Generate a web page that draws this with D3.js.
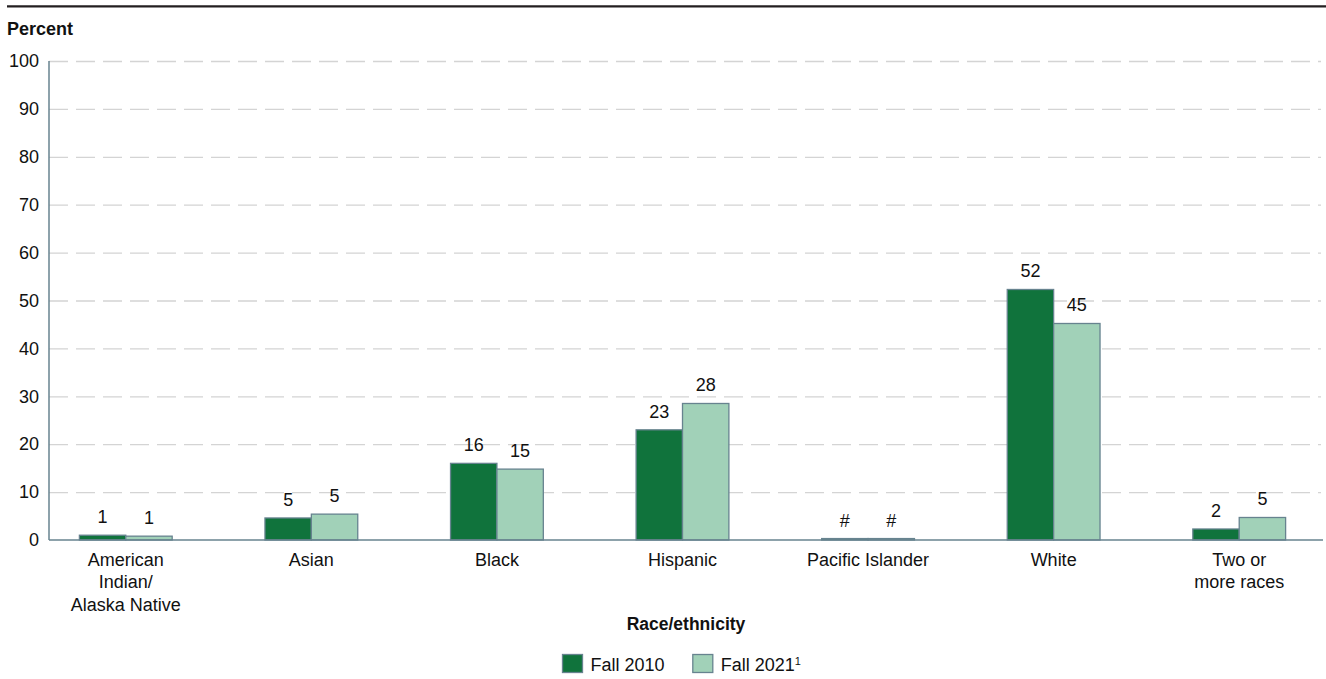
<!DOCTYPE html>
<html>
<head>
<meta charset="utf-8">
<script src="https://cdn.jsdelivr.net/npm/d3@7"></script>
<style>
  html, body { margin: 0; padding: 0; background: #fff; }
  svg { display: block; font-family: "Liberation Sans", Arial, sans-serif; }
</style>
</head>
<body>
<svg id="chart" width="1326" height="679"></svg>
<script>
const categories = ["American\nIndian/\nAlaska Native", "Asian", "Black", "Hispanic", "Pacific Islander", "White", "Two or\nmore races"];
const seriesNames = ["Fall 2010", "Fall 2021"];
const fall2010 = [1.0, 4.6, 16.0, 23.0, 0.3, 52.3, 2.3];
const fall2021 = [0.8, 5.4, 14.8, 28.5, 0.3, 45.2, 4.7];
const labels2010 = ["1", "5", "16", "23", "#", "52", "2"];
const labels2021 = ["1", "5", "15", "28", "#", "45", "5"];
const yTicks = [0, 10, 20, 30, 40, 50, 60, 70, 80, 90, 100];

const colors = ["#10733c", "#a1d1b8"];
const strokeCol = "#67838f";

const svg = d3.select("#chart");
const W = 1326;
const plotLeft = 49, plotRight = 1323, yTop = 61, yBottom = 540;

const y = d3.scaleLinear().domain([0, 100]).range([yBottom, yTop]);
const x0 = d3.scaleBand().domain(categories).range([33, 1332]).padding(0);
const x1 = d3.scaleBand().domain(seriesNames).range([0, x0.bandwidth()]).paddingInner(0).paddingOuter(1);

// top rule
svg.append("line").attr("x1", 7).attr("x2", W).attr("y1", 6.3).attr("y2", 6.3)
  .attr("stroke", "#231f20").attr("stroke-width", 2.2);

// Percent label
svg.append("text").attr("x", 7).attr("y", 35).attr("font-size", 18).attr("font-weight", "bold")
  .attr("fill", "#111").text("Percent");

// gridlines
const grid = d3.axisLeft(y).tickValues(yTicks.filter(d => d > 0)).tickSize(-(plotRight - 2 - plotLeft)).tickFormat("");
const gg = svg.append("g").attr("transform", `translate(${plotLeft},0)`).call(grid);
gg.select(".domain").remove();
gg.selectAll(".tick line").attr("stroke", "#d4d4d4").attr("stroke-width", 1.3).attr("stroke-dasharray", "19,8");

// y tick labels
const ya = d3.axisLeft(y).tickValues(yTicks).tickSize(0).tickPadding(10).tickFormat(d3.format("d"));
const yg = svg.append("g").attr("transform", `translate(${plotLeft},0)`).call(ya);
yg.select(".domain").remove();
yg.selectAll(".tick text").attr("font-size", 18).attr("fill", "#111")
  .attr("font-family", "Liberation Sans, Arial, sans-serif").attr("x", -10);

// bars
const data = categories.map((c, i) => ({ cat: c, vals: [
  { s: seriesNames[0], v: fall2010[i], lab: labels2010[i] },
  { s: seriesNames[1], v: fall2021[i], lab: labels2021[i] }] }));

const groups = svg.append("g").selectAll("g").data(data).join("g")
  .attr("transform", d => `translate(${x0(d.cat)},0)`);

groups.selectAll("rect").data(d => d.vals).join("rect")
  .attr("x", d => x1(d.s))
  .attr("y", d => y(d.v))
  .attr("width", x1.bandwidth())
  .attr("height", d => y(0) - y(d.v))
  .attr("fill", (d, i) => colors[i])
  .attr("stroke", strokeCol).attr("stroke-width", 1.3);

groups.selectAll("text.val").data(d => d.vals).join("text").attr("class", "val")
  .attr("x", d => x1(d.s) + x1.bandwidth() / 2)
  .attr("y", d => y(d.v) - 12)
  .attr("text-anchor", "middle").attr("font-size", 18).attr("fill", "#111")
  .text(d => d.lab);

// axes lines
svg.append("line").attr("x1", plotLeft).attr("x2", plotLeft).attr("y1", yTop).attr("y2", yBottom)
  .attr("stroke", strokeCol).attr("stroke-width", 1.5);
svg.append("line").attr("x1", plotLeft).attr("x2", plotRight).attr("y1", yBottom).attr("y2", yBottom)
  .attr("stroke", strokeCol).attr("stroke-width", 1.5);

// category labels
const xa = svg.append("g");
categories.forEach(c => {
  const t = xa.append("text").attr("text-anchor", "middle").attr("font-size", 18).attr("fill", "#111");
  c.split("\n").forEach((line, j) => {
    t.append("tspan").attr("x", x0(c) + x0.bandwidth() / 2).attr("y", 566 + j * 22.3).text(line);
  });
});

// axis title
svg.append("text").attr("x", 686).attr("y", 630).attr("text-anchor", "middle")
  .attr("font-size", 17.5).attr("font-weight", "bold").attr("fill", "#111").text("Race/ethnicity");

// legend
const legend = svg.append("g");
const legX = [562.5, 692.8];
seriesNames.forEach((s, i) => {
  legend.append("rect").attr("x", legX[i]).attr("y", 654.5).attr("width", 20).attr("height", 18)
    .attr("fill", colors[i]).attr("stroke", strokeCol).attr("stroke-width", 1.3);
  const t = legend.append("text").attr("x", legX[i] + 28).attr("y", 670.5)
    .attr("font-size", 18).attr("fill", "#111").text(s);
  if (i === 1) {
    t.append("tspan").attr("font-size", 11).attr("dy", -6).text("1");
  }
});
</script>
</body>
</html>
